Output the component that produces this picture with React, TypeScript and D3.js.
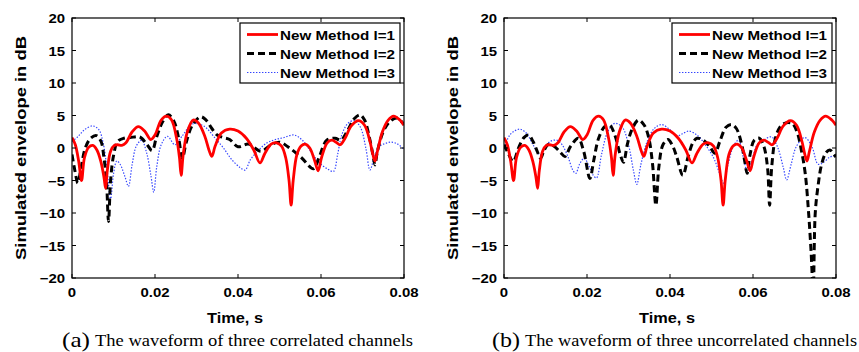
import React from "react";
import * as d3 from "d3";

// ---------- data (time in ms, value in dB) ----------
const redL1: [number, number][] = [
  [0, 1.6], [0.8, 0.5], [1.6, -2], [2.3, -5.0], [3.0, -1.5], [4.0, 0.1], [5.0, 0.4], [6.0, -0.3],
  [7.0, -2.2], [7.7, -4.5], [8.1, -6.2], [8.5, -3.5], [9.3, -0.5], [10.2, 0.4], [11.0, 0.5],
  [12.0, 0.4], [13.0, 0.8], [14.5, 2.5], [16.0, 3.3], [17.5, 2.6], [19.0, 1.3], [20.0, 2.0],
  [21.5, 4.3], [22.8, 4.9], [24.0, 4.3], [25.2, 1.5], [25.9, -1.5], [26.3, -4.2], [26.8, -1.0],
  [27.8, 2.5], [29.2, 4.3], [30.5, 3.8], [32.0, 1.8], [33.0, -0.3], [33.7, -1.3], [34.5, 0.3],
  [36.0, 2.3], [38.0, 2.9], [40.0, 2.6], [42.0, 1.5], [43.8, -0.3], [45.3, -2.3], [46.5, -0.8],
  [48.0, 0.6], [49.3, 0.8], [50.5, 0.3], [51.5, -1.5], [52.3, -5], [52.8, -8.8], [53.3, -5],
  [54.2, -1], [55.2, 0.3], [56.2, 0.6], [57.3, 0], [58.5, -2.0], [59.3, -3.5], [60.2, -1.3],
  [61.5, 0.8], [62.6, 1.2], [63.8, 0.8], [64.6, 0.5], [65.8, 1.5], [67.3, 3.4], [69.0, 4.2],
  [70.5, 3.5], [71.8, 1.0], [72.5, -1.0], [73.0, -2.0], [73.6, -0.5], [74.8, 2.5], [76.2, 4.3],
  [77.5, 4.9], [79.0, 4.3], [80.0, 3.5],
];

const blackL2a: [number, number][] = [
  [0, -1.0], [0.7, -3.5], [1.4, -5.4], [2.2, -3], [3.2, 0], [4.5, 1.5], [5.9, 1.9], [7.0, 1.0],
  [7.7, -1.5], [8.3, -5], [8.8, -11.3], [9.3, -5], [10.0, -1.2], [11.0, 1.0], [12.5, 1.5],
  [14.0, 1.6], [16.3, 1.7], [18.0, 0.6], [19.3, -0.4], [20.3, 1.5], [21.8, 4.0], [23.2, 5.1],
  [24.5, 4.2], [25.7, 1.5], [26.6, -1.6], [27.5, 0.8], [29.0, 3.5], [31.0, 4.8], [32.3, 4.3],
  [33.7, 3.0], [35.0, 2.0], [36.5, 1.6], [38.0, 1.3], [40.0, 0.2], [42.5, 0.6], [45.5, -0.5],
  [48.0, 0.5], [50.0, 0.9], [52.0, 0.2], [55.3, -1.5], [58.2, -3.2], [59.5, -1.5], [61.4, 1.2],
  [63.4, 1.5], [64.8, 1.2], [66.5, 2.8], [68.0, 4.5], [69.4, 5.1], [70.5, 4.3], [71.7, 1.5],
  [72.5, -1.0], [73.0, -2.6], [73.6, -0.5], [75.0, 2.5], [76.5, 4.0], [78.3, 4.6], [80.0, 3.6],
];

const blueL3a: [number, number][] = [
  [0, 1.0], [1.5, 1.8], [3.0, 2.8], [5.0, 3.4], [6.5, 2.8], [7.5, 0.8], [8.4, -3], [9.3, -7.8],
  [10.0, -4], [10.8, -2.0], [11.6, -2.5], [12.8, -4.5], [13.6, -5.9], [14.5, -2.5], [15.5, 0.3],
  [16.8, 1.2], [18.0, -0.8], [19.0, -4.2], [19.7, -6.8], [20.4, -3], [21.5, 0.5], [23.0, 1.8],
  [24.8, 0.5], [26.5, 1.8], [29.0, 3.7], [31.0, 3.6], [32.5, 3.0], [34.5, 1.5], [36.5, 0],
  [38.5, -1.8], [40.5, -3.0], [41.7, -3.4], [43, -1.8], [45, -0.3], [47, 0.8], [49, 1.3],
  [51, 1.6], [53.5, 2.0], [55.5, 1.2], [57.5, -0.5], [59.5, -2.2], [61.5, -3.2], [63.0, -3.6],
  [64.0, -1], [65.0, 2.0], [66.5, 3.8], [68.0, 4.2], [69.5, 3.2], [70.8, 0], [71.8, -3.4],
  [72.8, -1.5], [74.0, 0.2], [75.5, 0.7], [77.0, 0.9], [78.5, 0.6], [80.0, -0.2],
];

const blackL2b: [number, number][] = [
  [0, 0.5], [1.0, -0.8], [2.2, -2.1], [3.5, 0], [4.8, 1.6], [5.9, 2.0], [7.0, 1.0], [8.0, -0.5],
  [8.8, -1.6], [9.7, -0.3], [10.8, 0.6], [12.0, 0.3], [13.5, -0.6], [14.7, -1.3], [16.0, 0.2],
  [17.9, 1.5], [19.2, -0.5], [20.7, -4.7], [21.6, -2], [22.8, 1.5], [24.3, 3.3], [25.5, 3.5],
  [26.8, 1.8], [28.0, -1], [28.8, -2.2], [29.7, 0.5], [30.8, 2.8], [32.4, 4.3], [33.8, 3.5],
  [34.9, 1.5], [35.8, -2.5], [36.6, -8.8], [37.3, -3], [38.3, 0.5], [39.5, 1.3], [40.5, 0.5],
  [41.5, -1.1], [43.1, -4.2], [44.3, -1.5], [45.5, 0.8], [46.5, 1.5], [48.0, 1.2], [49.5, 0.3],
  [50.8, -0.8], [52.0, 1.0], [53.5, 3.2], [54.9, 3.6], [56.0, 3.0], [57.3, 0.5], [58.0, -2.0],
  [58.6, -3.9], [59.3, -1], [60.3, 1.2], [61.5, 1.5], [62.6, 0.3], [63.5, -3], [64.0, -8.8],
  [64.5, -3], [65.4, 1.5], [66.5, 3.2], [67.6, 3.8], [69.4, 3.8], [70.6, 2.5], [71.7, -0.5],
  [72.6, -4], [73.4, -10], [74.0, -16], [74.5, -22], [75.0, -10], [75.7, -5.7], [76.5, -2.6],
  [77.5, -0.8], [78.5, -0.3], [79.3, -0.8], [80.0, -1.4],
];

const blueL3b: [number, number][] = [
  [0, 0], [1.4, 2.0], [2.5, 2.6], [3.9, 2.9], [5.5, 2.2], [7.0, 0.5], [8.7, -1.1], [10.0, 0.2],
  [11.1, 1.0], [12.7, 1.2], [14.0, 0.5], [15.5, -1.5], [16.5, -3.3], [17.3, -3.9], [18.2, -2.5],
  [19.3, -1.6], [20.5, -2.8], [21.5, -4.2], [22.3, -4.6], [23.5, -1], [25.0, 2.5], [26.7, 3.8],
  [28.5, 3.2], [30.0, 0.5], [31.2, -3.5], [32.0, -5.6], [33.0, -2.5], [34.5, 1.0], [36.2, 3.0],
  [38.0, 3.6], [40.0, 2.8], [41.5, 1.8], [43.0, 2.2], [44.5, 2.6], [46.5, 2.0], [48.5, 0.5],
  [50.5, -1.5], [52.0, -4], [52.9, -5.4], [54.0, -2.5], [55.3, 0.3], [56.5, 1.2], [57.7, -1.5],
  [58.7, -3.8], [59.7, -2], [61.0, 0.5], [62.5, 1.2], [64.5, 1.7], [66.0, 0], [67.3, -3],
  [68.1, -4.9], [69.2, -2.5], [70.5, 0.3], [72.5, 1.6], [74.2, 0.2], [75.7, -2.5], [77, -2.2],
  [78.5, -1.4], [80, -1.2],
];

const yTicks = [-20, -15, -10, -5, 0, 5, 10, 15, 20];
const xTicks = [0, 0.02, 0.04, 0.06, 0.08];
const xTickLabels = ["0", "0.02", "0.04", "0.06", "0.08"];
const legendLabels = ["New Method l=1", "New Method l=2", "New Method l=3"];
const captionLetters = ["(a)", "(b)"];
const captionTexts = [
  "The waveform of three correlated channels",
  "The waveform of three uncorrelated channels",
];

// ---------- layout ----------
const W = 859;
const H = 352;
const PY0 = 18;
const PY1 = 278;
const BOLD = "'Liberation Sans', Arial, Helvetica, sans-serif";
const SERIF = "'Liberation Serif', 'Times New Roman', serif";
const BLUE_DASH = "1.4,1.6";

type PanelDef = {
  x0: number;
  x1: number;
  black: [number, number][];
  blue: [number, number][];
  legX: number;
  capX: number;
  capTextX: number;
  capTextEnd: number;
};

const panels: PanelDef[] = [
  { x0: 72, x1: 404, black: blackL2a, blue: blueL3a, legX: 240, capX: 62, capTextX: 95, capTextEnd: 413 },
  { x0: 504, x1: 836, black: blackL2b, blue: blueL3b, legX: 672, capX: 492, capTextX: 525, capTextEnd: 857 },
];

function Panel({ p, idx }: { p: PanelDef; idx: number }) {
  const x = d3.scaleLinear().domain([0, 0.08]).range([p.x0, p.x1]);
  const y = d3.scaleLinear().domain([-20, 20]).range([PY1, PY0]);
  const line = d3
    .line<[number, number]>()
    .x((d) => x(d[0] / 1000))
    .y((d) => y(d[1]))
    .curve(d3.curveCatmullRom.alpha(0.5));
  const clipId = `clip${idx}`;
  const tickLen = 4;
  const legW = 160;
  const legH = 60;
  const rowY = [34.5, 53.5, 72.5];
  return (
    <g>
      <defs>
        <clipPath id={clipId}>
          <rect x={p.x0} y={PY0} width={p.x1 - p.x0} height={PY1 - PY0} />
        </clipPath>
      </defs>
      <rect x={p.x0} y={PY0} width={p.x1 - p.x0} height={PY1 - PY0} fill="white" />
      <g clipPath={`url(#${clipId})`}>
        <path d={line(p.blue) || ""} fill="none" stroke="#3344ff" strokeWidth={1.2} strokeDasharray={BLUE_DASH} />
        <path d={line(p.black) || ""} fill="none" stroke="black" strokeWidth={3} strokeDasharray="7,4" />
        <path d={line(redL1) || ""} fill="none" stroke="#ff0000" strokeWidth={2.8} />
      </g>
      {/* axes box */}
      <rect x={p.x0} y={PY0} width={p.x1 - p.x0} height={PY1 - PY0} fill="none" stroke="black" strokeWidth={1.2} />
      {yTicks.map((t) => (
        <g key={`y${t}`}>
          <line x1={p.x0} x2={p.x0 + tickLen} y1={y(t)} y2={y(t)} stroke="black" strokeWidth={1} />
          <line x1={p.x1} x2={p.x1 - tickLen} y1={y(t)} y2={y(t)} stroke="black" strokeWidth={1} />
          <text
            transform={`translate(${p.x0 - 7},${y(t) + 5}) scale(1.15,1)`}
            textAnchor="end"
            fontFamily={BOLD}
            fontWeight="bold"
            fontSize={13}
          >
            {t < 0 ? `\u2212${-t}` : `${t}`}
          </text>
        </g>
      ))}
      {xTicks.map((t, i) => (
        <g key={`x${i}`}>
          <line x1={x(t)} x2={x(t)} y1={PY1} y2={PY1 - tickLen} stroke="black" strokeWidth={1} />
          <line x1={x(t)} x2={x(t)} y1={PY0} y2={PY0 + tickLen} stroke="black" strokeWidth={1} />
          <text
            transform={`translate(${x(t)},${297}) scale(1.15,1)`}
            textAnchor="middle"
            fontFamily={BOLD}
            fontWeight="bold"
            fontSize={13}
          >
            {xTickLabels[i]}
          </text>
        </g>
      ))}
      <text
        x={(p.x0 + p.x1) / 2 - 3}
        y={323}
        textAnchor="middle"
        fontFamily={BOLD}
        fontWeight="bold"
        fontSize={15}
        textLength={56}
        lengthAdjust="spacingAndGlyphs"
      >
        Time, s
      </text>
      <text
        transform={`translate(${p.x0 - 46},${(PY0 + PY1) / 2}) rotate(-90)`}
        textAnchor="middle"
        fontFamily={BOLD}
        fontWeight="bold"
        fontSize={15}
        textLength={224}
        lengthAdjust="spacingAndGlyphs"
      >
        Simulated envelope in dB
      </text>
      {/* legend */}
      <rect x={p.legX} y={23} width={legW} height={legH} fill="white" stroke="black" strokeWidth={1.2} />
      {legendLabels.map((lab, i) => {
        const ly = rowY[i];
        const lx0 = p.legX + 7;
        const lx1 = p.legX + 38;
        return (
          <g key={lab}>
            {i === 0 && <line x1={lx0} x2={lx1} y1={ly} y2={ly} stroke="#ff0000" strokeWidth={2.8} />}
            {i === 1 && (
              <line x1={lx0} x2={lx1} y1={ly} y2={ly} stroke="black" strokeWidth={3} strokeDasharray="7,4" />
            )}
            {i === 2 && (
              <line x1={lx0} x2={lx1} y1={ly} y2={ly} stroke="#3344ff" strokeWidth={1.2} strokeDasharray={BLUE_DASH} />
            )}
            <text
              x={p.legX + 40}
              y={ly + 5}
              fontFamily={BOLD}
              fontWeight="bold"
              fontSize={13.5}
              textLength={115}
              lengthAdjust="spacingAndGlyphs"
            >
              {lab}
            </text>
          </g>
        );
      })}
      {/* caption */}
      <text x={p.capX} y={347} fontFamily={SERIF} fontSize={21} textLength={28} lengthAdjust="spacingAndGlyphs">
        {captionLetters[idx]}
      </text>
      <text
        x={p.capTextX}
        y={346}
        fontFamily={SERIF}
        fontSize={16}
        textLength={p.capTextEnd - p.capTextX}
        lengthAdjust="spacingAndGlyphs"
      >
        {captionTexts[idx]}
      </text>
    </g>
  );
}

export default function App() {
  return (
    <svg
      width={W}
      height={H}
      viewBox={`0 0 ${W} ${H}`}
      style={{ position: "absolute", left: 0, top: 0, background: "white" }}
    >
      <rect x={0} y={0} width={W} height={H} fill="white" />
      {panels.map((p, i) => (
        <Panel key={i} p={p} idx={i} />
      ))}
    </svg>
  );
}
